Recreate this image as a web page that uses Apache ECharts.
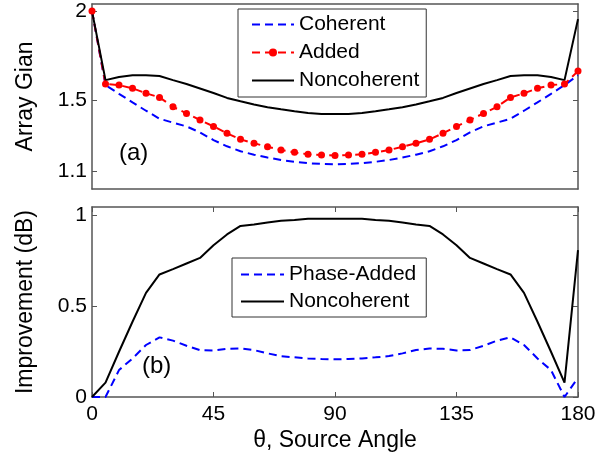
<!DOCTYPE html>
<html lang="en">
<head>
    <meta charset="UTF-8">
    <title>Array Gain / Improvement</title>
    <style>
        body {
            margin: 0;
            background: #fff;
        }
        #chart {
            width: 616px;
            height: 460px;
        }
    </style>
    <script src="https://cdn.jsdelivr.net/npm/echarts@6/dist/echarts.min.js"></script>
</head>
<body>
    <div id="chart"></div>
    <script>
        // source angle, degrees
        const angles = [0, 5, 10, 15, 20, 25, 30, 35, 40, 45, 50, 55, 60, 65, 70, 75, 80, 85, 90,
            95, 100, 105, 110, 115, 120, 125, 130, 135, 140, 145, 150, 155, 160, 165, 170, 175, 180];

        // (a) array gain
        const coherent = [2.0, 1.584, 1.535, 1.487, 1.44, 1.395, 1.373, 1.352, 1.318, 1.275, 1.24, 1.212, 1.193,
            1.177, 1.163, 1.153, 1.145, 1.141, 1.139, 1.141, 1.145, 1.153, 1.163, 1.177, 1.193, 1.212, 1.24,
            1.275, 1.318, 1.352, 1.373, 1.395, 1.44, 1.487, 1.535, 1.584, 1.64];
        const added = [2.0, 1.59, 1.584, 1.566, 1.538, 1.515, 1.462, 1.425, 1.388, 1.352, 1.313, 1.279, 1.257,
            1.238, 1.219, 1.206, 1.195, 1.191, 1.188, 1.191, 1.195, 1.206, 1.219, 1.238, 1.257, 1.279, 1.313,
            1.352, 1.388, 1.425, 1.462, 1.515, 1.538, 1.566, 1.584, 1.59, 1.663];
        const noncoherent = [2.0, 1.612, 1.63, 1.64, 1.64, 1.635, 1.612, 1.59, 1.565, 1.54, 1.512, 1.493, 1.475,
            1.46, 1.448, 1.437, 1.427, 1.422, 1.421, 1.422, 1.427, 1.437, 1.448, 1.46, 1.475, 1.493, 1.512,
            1.54, 1.565, 1.59, 1.612, 1.635, 1.64, 1.64, 1.63, 1.612, 1.955];

        // (b) improvement, dB
        const phaseAddedDb = [0, 0, 0.148, 0.212, 0.286, 0.328, 0.31, 0.282, 0.258, 0.256, 0.265, 0.267, 0.258,
            0.24, 0.225, 0.218, 0.212, 0.209, 0.207, 0.209, 0.212, 0.218, 0.225, 0.24, 0.258, 0.267, 0.265,
            0.256, 0.258, 0.282, 0.31, 0.328, 0.286, 0.212, 0.148, 0, 0.106];
        const noncoherentDb = [0, 0.079, 0.249, 0.414, 0.573, 0.674, 0.703, 0.734, 0.765, 0.835, 0.894, 0.941, 0.949,
            0.96, 0.969, 0.974, 0.98, 0.98, 0.98, 0.98, 0.98, 0.974, 0.969, 0.96, 0.949, 0.941, 0.894,
            0.835, 0.765, 0.734, 0.703, 0.674, 0.573, 0.414, 0.249, 0.079, 0.808];

        // tick labels
        const xTicks = [0, 45, 90, 135, 180];
        const gainTicks = [1.1, 1.5, 2];
        const dbTicks = [0, 0.5, 1];

        const FONT = '"Liberation Sans", Arial, sans-serif';
        const AXIS_COLOR = '#555';

        function pairs(ys) {
            return angles.map((a, i) => [a, ys[i]]);
        }

        // legend entry with only the line sample, no marker
        function lineOnly(name) {
            return { name: name, itemStyle: { opacity: 0 } };
        }

        function xAxisCfg(grid, pos, labels) {
            return {
                type: 'value',
                gridIndex: grid,
                position: pos,
                min: 0,
                max: 180,
                axisLine: { show: true, onZero: false, lineStyle: { color: AXIS_COLOR, width: 1.5 } },
                axisTick: { show: grid === 1, inside: true, length: 5, customValues: xTicks, lineStyle: { color: AXIS_COLOR } },
                axisLabel: {
                    show: labels, customValues: xTicks, margin: 7,
                    fontSize: 21, color: '#000', fontFamily: FONT
                },
                splitLine: { show: false },
                name: labels ? 'θ, Source Angle' : '',
                nameLocation: 'middle',
                nameGap: 32,
                nameTextStyle: { fontSize: 23, color: '#000', fontFamily: FONT }
            };
        }

        function yAxisCfg(grid, pos, min, max, ticks, name) {
            return {
                type: 'value',
                gridIndex: grid,
                position: pos,
                min: min,
                max: max,
                axisLine: { show: true, onZero: false, lineStyle: { color: AXIS_COLOR, width: 1.5 } },
                axisTick: { show: true, inside: true, length: 5, customValues: ticks, lineStyle: { color: AXIS_COLOR } },
                axisLabel: {
                    show: !!name, customValues: ticks, margin: 5,
                    fontSize: 21, color: '#000', fontFamily: FONT,
                    formatter: v => String(v)
                },
                splitLine: { show: false },
                name: name || '',
                nameLocation: 'middle',
                nameGap: 55,
                nameTextStyle: { fontSize: 23, color: '#000', fontFamily: FONT }
            };
        }

        const dashed = [8, 5];

        const chart = echarts.init(document.getElementById('chart'));
        chart.setOption({
            animation: false,
            backgroundColor: '#fff',
            grid: [
                { left: 92, top: 4, width: 486, height: 185 },
                { left: 92, top: 207, width: 486, height: 190 }
            ],
            xAxis: [
                xAxisCfg(0, 'bottom', false),
                xAxisCfg(0, 'top', false),
                xAxisCfg(1, 'bottom', true),
                xAxisCfg(1, 'top', false)
            ],
            yAxis: [
                yAxisCfg(0, 'left', 1, 2.04, gainTicks, 'Array Gian'),
                yAxisCfg(0, 'right', 1, 2.04, gainTicks, null),
                yAxisCfg(1, 'left', 0, 1.045, dbTicks, 'Improvement (dB)'),
                yAxisCfg(1, 'right', 0, 1.045, dbTicks, null)
            ],
            legend: [
                {
                    orient: 'vertical',
                    left: 238,
                    top: 9,
                    padding: [5, 7, 6, 13],
                    itemWidth: 42,
                    itemHeight: 10,
                    itemGap: 7,
                    backgroundColor: '#fff',
                    borderColor: '#333',
                    borderWidth: 1,
                    borderRadius: 0,
                    textStyle: { fontSize: 21, lineHeight: 21, color: '#000', fontFamily: FONT },
                    data: [lineOnly('Coherent'), 'Added', lineOnly('Noncoherent')]
                },
                {
                    orient: 'vertical',
                    left: 232,
                    top: 258,
                    padding: [6, 10, 5, 8],
                    itemWidth: 43,
                    itemHeight: 10,
                    itemGap: 6,
                    backgroundColor: '#fff',
                    borderColor: '#333',
                    borderWidth: 1,
                    borderRadius: 0,
                    textStyle: { fontSize: 21, lineHeight: 21, color: '#000', fontFamily: FONT },
                    data: [lineOnly('Phase-Added'), lineOnly('Noncoherent ')]
                }
            ],
            graphic: [
                {
                    type: 'text', left: 119, top: 141,
                    style: { text: '(a)', fontSize: 24, fill: '#000', fontFamily: FONT }
                },
                {
                    type: 'text', left: 142, top: 354,
                    style: { text: '(b)', fontSize: 24, fill: '#000', fontFamily: FONT }
                }
            ],
            series: [
                {
                    name: 'Coherent', type: 'line', xAxisIndex: 0, yAxisIndex: 0,
                    data: pairs(coherent), symbol: 'none',
                    lineStyle: { color: '#0000ff', width: 2, type: dashed },
                    itemStyle: { color: '#0000ff' }
                },
                {
                    name: 'Added', type: 'line', xAxisIndex: 0, yAxisIndex: 0,
                    data: pairs(added), symbol: 'circle', symbolSize: 7,
                    lineStyle: { color: '#ff0000', width: 2, type: dashed },
                    itemStyle: { color: '#ff0000' }
                },
                {
                    name: 'Noncoherent', type: 'line', xAxisIndex: 0, yAxisIndex: 0,
                    data: pairs(noncoherent), symbol: 'none',
                    lineStyle: { color: '#000', width: 2 },
                    itemStyle: { color: '#000' }
                },
                {
                    name: 'Phase-Added', type: 'line', xAxisIndex: 2, yAxisIndex: 2,
                    data: pairs(phaseAddedDb), symbol: 'none',
                    lineStyle: { color: '#0000ff', width: 2, type: dashed },
                    itemStyle: { color: '#0000ff' }
                },
                {
                    name: 'Noncoherent ', type: 'line', xAxisIndex: 2, yAxisIndex: 2,
                    data: pairs(noncoherentDb), symbol: 'none',
                    lineStyle: { color: '#000', width: 2 },
                    itemStyle: { color: '#000' }
                }
            ]
        });
    </script>
</body>
</html>
